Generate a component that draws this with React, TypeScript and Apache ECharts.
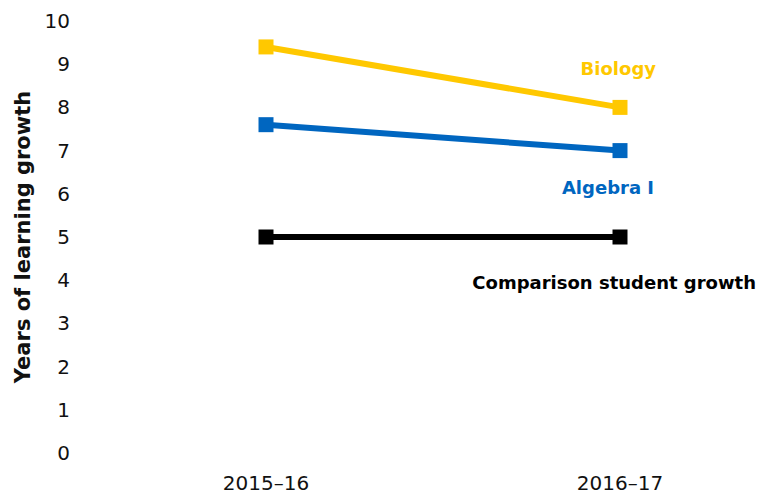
import React, { useEffect, useRef } from "react";
import * as echarts from "echarts";

const years = ["2015–16", "2016–17"];
const biology = [9.4, 8.0];
const algebra = [7.6, 7.0];
const comparison = [5, 5];
const yTicks = { min: 0, max: 10, interval: 1 };

const FONT = "DejaVu Sans, Verdana, sans-serif";

export default function App() {
  const ref = useRef<HTMLDivElement>(null);
  useEffect(() => {
    if (!ref.current) return;
    const chart = echarts.init(ref.current, null, { renderer: "svg" });
    const mk = (name: string, data: number[], color: string) => ({
      name,
      type: "line",
      data,
      symbol: "rect",
      symbolSize: 15,
      lineStyle: { color, width: 6 },
      itemStyle: { color },
    });
    chart.setOption({
      animation: false,
      grid: { left: 258, right: 157, top: 13, bottom: 43 },
      xAxis: {
        type: "category",
        data: years,
        boundaryGap: false,
        axisLine: { show: false },
        axisTick: { show: false },
        axisLabel: { color: "#111", fontSize: 20, fontFamily: FONT, margin: 20 },
      },
      yAxis: {
        type: "value",
        min: yTicks.min,
        max: yTicks.max,
        interval: yTicks.interval,
        splitLine: { show: false },
        axisLine: { show: false },
        axisTick: { show: false },
        axisLabel: { color: "#111", fontSize: 20, fontFamily: FONT, margin: 196 },
        name: "Years of learning growth",
        nameLocation: "middle",
        nameGap: 233,
        nameTextStyle: { color: "#111", fontSize: 21, fontWeight: "bold", fontFamily: FONT },
      },
      graphic: [
        { type: "text", right: 121, top: 51, style: { text: "Biology", fill: "#FFC800", font: `bold 18px ${FONT}` } },
        { type: "text", right: 123, top: 170, style: { text: "Algebra I", fill: "#0066C0", font: `bold 18px ${FONT}` } },
        { type: "text", right: 21, top: 265, style: { text: "Comparison student growth", fill: "#000", font: `bold 18px ${FONT}` } },
      ],
      series: [
        mk("Comparison student growth", comparison, "#000000"),
        mk("Algebra I", algebra, "#0066C0"),
        mk("Biology", biology, "#FFC800"),
      ],
    });
    return () => chart.dispose();
  }, []);
  return <div ref={ref} style={{ width: 769, height: 488 }} />;
}
